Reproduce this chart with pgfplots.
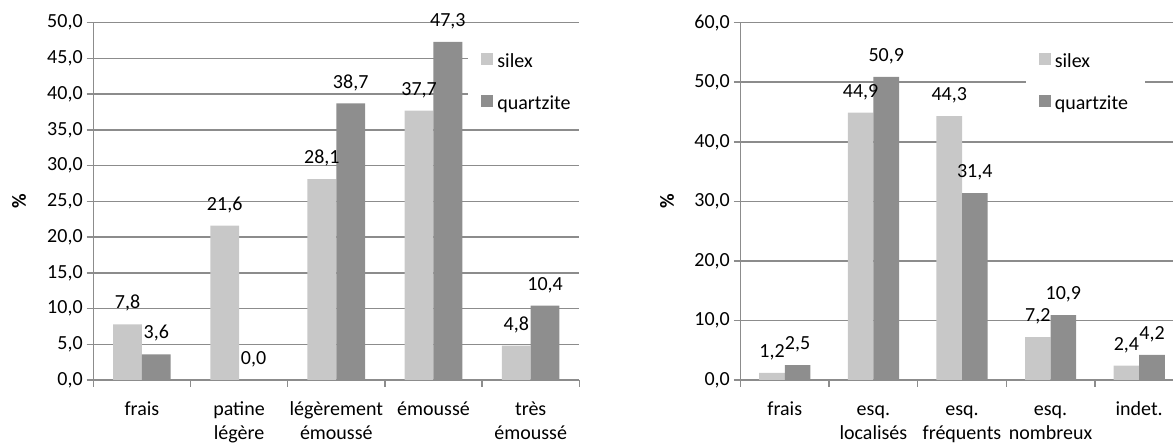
\documentclass[border=0pt]{standalone}
\usepackage{pgfplots}
\pgfplotsset{compat=1.18}
\usepackage{fontspec}
\setmainfont{Carlito}
\definecolor{silex}{HTML}{C8C8C8}
\definecolor{quartz}{HTML}{8E8E8E}
\definecolor{gridc}{HTML}{8C8C8C}
\pgfplotsset{
  /pgf/number format/assume math mode=true,
  mystyle/.style={
    scale only axis,
    anchor=south west,
    height=178.65pt,
    font=\fontsize{10}{12}\selectfont,
    ybar=0pt,
    clip=false,
    xmin=-0.5, xmax=4.5,
    ymin=0,
    xtick={-0.5,0.5,...,4.5},
    xticklabels={},
    extra x ticks={0,1,2,3,4},
    extra x tick style={major tick length=0pt,
      xticklabel style={align=center, anchor=north, inner sep=0pt, yshift=-9.1pt}},
    yticklabel style={xshift=1.5pt, /pgf/number format/.cd, fixed, fixed zerofill, precision=1, use comma},
    ymajorgrids,
    major grid style={gridc, line width=0.75pt},
    axis x line*=bottom, axis y line*=left,
    axis line style={gridc, line width=0.75pt, -},
    tick style={gridc, line width=0.75pt},
    tick align=outside,
    major tick length=3.3pt,
    legend cell align=left,
    legend image code/.code={\fill[##1] (0pt,-1.55pt) rectangle (6pt,4.45pt);},
    nodes near coords={\pgfmathprintnumber[fixed,fixed zerofill,precision=1,use comma]{\pgfplotspointmeta}},
    nodes near coords style={anchor=base, yshift=7.7pt, font=\fontsize{10}{12}\selectfont},
    ylabel={\textbf{\%}},
  }
}
\begin{document}
\begin{tikzpicture}
\begin{axis}[mystyle,
  at={(46.65pt,31.5pt)},
  width=243pt,
  ymax=50, ytick={0,5,...,50},
  bar width=14.4pt,
  extra x tick labels={{\strut frais},{\strut patine\\légère},{\strut légèrement\\émoussé},{\strut émoussé},{\strut très\\émoussé}},
  ylabel style={at={(rel axis cs:-0.153,0.5)}, anchor=center},
  legend style={draw=none, fill=white, at={(rel axis cs:0.771,0.9496)}, anchor=north west,
    inner xsep=6.5pt, inner ysep=4pt, row sep=8.65pt,
    nodes={inner sep=2pt, text height=7pt, text depth=1.5pt}},
]
\addplot[fill=silex, draw=none] coordinates {(0,7.8) (1,21.6) (2,28.1) (3,37.7) (4,4.8)};
\addplot[fill=quartz, draw=none] coordinates {(0,3.6) (1,0.0) (2,38.7) (3,47.3) (4,10.4)};
\legend{silex, quartzite}
\end{axis}
\begin{axis}[mystyle,
  at={(370.25pt,31.5pt)},
  width=221.5pt,
  ymax=60, ytick={0,10,...,60},
  bar width=12.8pt,
  extra x tick labels={{\strut frais},{\strut esq.\\localisés},{\strut esq.\\fréquents},{\strut esq.\\nombreux},{\strut indet.}},
  ylabel style={at={(rel axis cs:-0.166,0.5)}, anchor=center},
  legend style={draw=none, fill=white, at={(rel axis cs:0.644,0.9496)}, anchor=north west,
    inner xsep=6.3pt, inner ysep=4pt, row sep=8.65pt,
    nodes={inner sep=2pt, text height=7pt, text depth=1.5pt}},
]
\addplot[fill=silex, draw=none] coordinates {(0,1.2) (1,44.9) (2,44.3) (3,7.2) (4,2.4)};
\addplot[fill=quartz, draw=none] coordinates {(0,2.5) (1,50.9) (2,31.4) (3,10.9) (4,4.2)};
\legend{silex, quartzite}
\end{axis}
\pgfresetboundingbox
\path[use as bounding box] (0,0) rectangle (586.5pt,221.5pt);
\end{tikzpicture}
\end{document}
